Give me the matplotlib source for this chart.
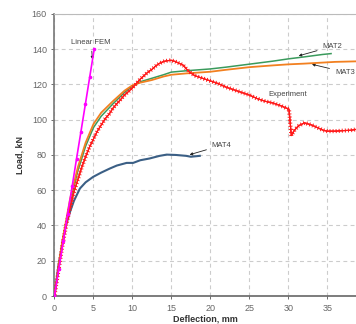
import numpy as np
import matplotlib.pyplot as plt
import matplotlib.patheffects as pe

plt.rcParams['font.family'] = ['Liberation Sans', 'DejaVu Sans']

# Linear FEM
fem_x = [0, 0.57, 1.13, 1.7, 2.27, 2.83, 3.4, 3.97, 4.53, 5.1]
fem_y = [0, 15.6, 31.1, 46.7, 62.2, 77.8, 93.3, 108.9, 124.4, 140]

# Experiment
exp_x = [0, 0.5, 1, 1.5, 2, 2.5, 3, 3.5, 4, 4.5, 5, 5.5, 6, 6.5, 7, 7.5, 8, 8.5, 9, 9.5,
         10, 10.5, 11, 11.5, 12, 12.5, 13, 13.5, 14, 14.5, 15, 15.5, 16, 16.5, 17, 17.5,
         18, 19, 20, 21, 22, 23, 24, 25, 26, 27, 28, 29, 29.8, 30.1, 30.4, 30.8, 31.3,
         32.1, 33, 34, 34.5, 35, 36, 37, 38, 38.7]
exp_y = [0, 14, 28, 40, 50, 59, 66, 73, 79, 84.5, 89, 93.5, 97, 100.5, 103, 106.5, 109,
         111.5, 114, 116, 118, 120.5, 123, 125, 127, 128.5, 130.5, 132, 133, 133.5, 133.7,
         133, 132, 131, 128.5, 126.5, 125, 123.5, 122, 120.5, 118.5, 117, 115.5, 114, 112,
         110.5, 109.5, 108, 106.5, 106, 91, 94, 96.5, 98.2, 97, 95, 94, 93.5, 93.5, 93.8,
         94, 94.5]

# MAT2
mat2_x = [0, 1, 2, 3, 4, 5, 6, 7.5, 9, 10, 11, 12.5, 14, 15, 17, 20, 22, 25, 28, 30, 32,
          34.4, 35.5]
mat2_y = [0, 30, 53, 71, 85, 95.5, 102, 109, 115.5, 119, 121.5, 123.5, 125.5, 127, 127.8,
          128.8, 129.8, 131.5, 133.2, 134.5, 135.6, 137, 137.5]

# MAT3
mat3_x = [0, 1, 2, 3, 4, 5, 6, 7.5, 9, 10, 11, 12.5, 14, 15, 17, 20, 22, 25, 28, 30, 32,
          34.4, 36, 38.7]
mat3_y = [0, 31, 55, 73, 87, 97.5, 104, 110.5, 116.5, 119.5, 121, 122.5, 124.5, 125.5,
          126.3, 127.2, 128.3, 129.8, 130.8, 131.4, 131.8, 132.4, 132.8, 133.1]

# MAT4
mat4_x = [0, 0.5, 1.13, 1.5, 2, 2.5, 3.27, 4, 4.97, 6, 7.1, 8, 9.26, 10.1, 11, 12.2, 13.5,
          14.4, 15.6, 16.9, 17.5, 18.2, 18.65]
mat4_y = [0, 17, 33, 40.5, 47.8, 54, 61, 64.5, 67.6, 70, 72.3, 74, 75.5, 75.5, 77, 78,
          79.5, 80.2, 80, 79.5, 79, 79.3, 79.5]

xticks = [0, 5, 10, 15, 20, 25, 30, 35]
yticks = [0, 20, 40, 60, 80, 100, 120, 140, 160]

fig = plt.figure(figsize=(3.56, 3.24), dpi=100)
ax = fig.add_axes([0.153, 0.0864, 0.847, 0.8706])

ax.plot(mat4_x, mat4_y, color='#3b5f85', lw=1.5, zorder=3)
ax.plot(mat3_x, mat3_y, color='#f28020', lw=1.3, zorder=4)
ax.plot(mat2_x, mat2_y, color='#3a9a5c', lw=1.1, zorder=3)
# jagged look of the measured curve
ax.plot(exp_x, exp_y, color='#ff1a1a', lw=0.8, zorder=5,
        path_effects=[pe.withTickedStroke(spacing=2.2, angle=90, length=0.5, linewidth=0.7),
                      pe.withTickedStroke(spacing=2.2, angle=-90, length=0.5, linewidth=0.7),
                      pe.Normal()])
ax.plot(fem_x, fem_y, color='#ff00ff', lw=1.2, marker='o', ms=1.6, zorder=6)

ax.set_xlim(0, 38.7)
ax.set_ylim(0, 160)
ax.set_xticks(xticks)
ax.set_yticks(yticks)
ax.grid(True, color='#cccccc', ls=(0, (3.5, 3)), lw=0.8)
ax.tick_params(labelsize=6.5, colors='#555555', length=2, width=0.6)
for lbl in ax.get_xticklabels() + ax.get_yticklabels():
    lbl.set_color('#666666')

ax.spines['right'].set_visible(False)
ax.spines['top'].set_color('#bbbbbb')
ax.spines['left'].set_color('#777777')
ax.spines['bottom'].set_color('#666666')
ax.spines['left'].set_linewidth(1.2)
ax.spines['bottom'].set_linewidth(1.2)

ax.set_xlabel('Deflection, mm', fontsize=6.5, fontweight='bold', color='#333333', labelpad=1)
ax.set_ylabel('Load, kN', fontsize=6.5, fontweight='bold', color='#333333', labelpad=5)

arrow = dict(arrowstyle='-|>', color='#222222', lw=0.6, mutation_scale=4)
ax.annotate('Linear FEM', xy=(4.9, 132.7), xytext=(4.7, 144), fontsize=5.5, color='#444444',
            ha='center', va='center', arrowprops=arrow)
ax.annotate('MAT2', xy=(31.0, 135.8), xytext=(34.4, 141.6), fontsize=5.5, color='#444444',
            ha='left', va='center', arrowprops=arrow)
ax.annotate('MAT3', xy=(32.7, 131.8), xytext=(36.0, 127), fontsize=5.5, color='#444444',
            ha='left', va='center', arrowprops=arrow)
ax.annotate('MAT4', xy=(17.0, 79.7), xytext=(20.2, 85.5), fontsize=5.5, color='#444444',
            ha='left', va='center', arrowprops=arrow)
ax.text(27.5, 114.3, 'Experiment', fontsize=5.5, color='#444444', ha='left', va='center')

fig.savefig('out.png', dpi=100)
